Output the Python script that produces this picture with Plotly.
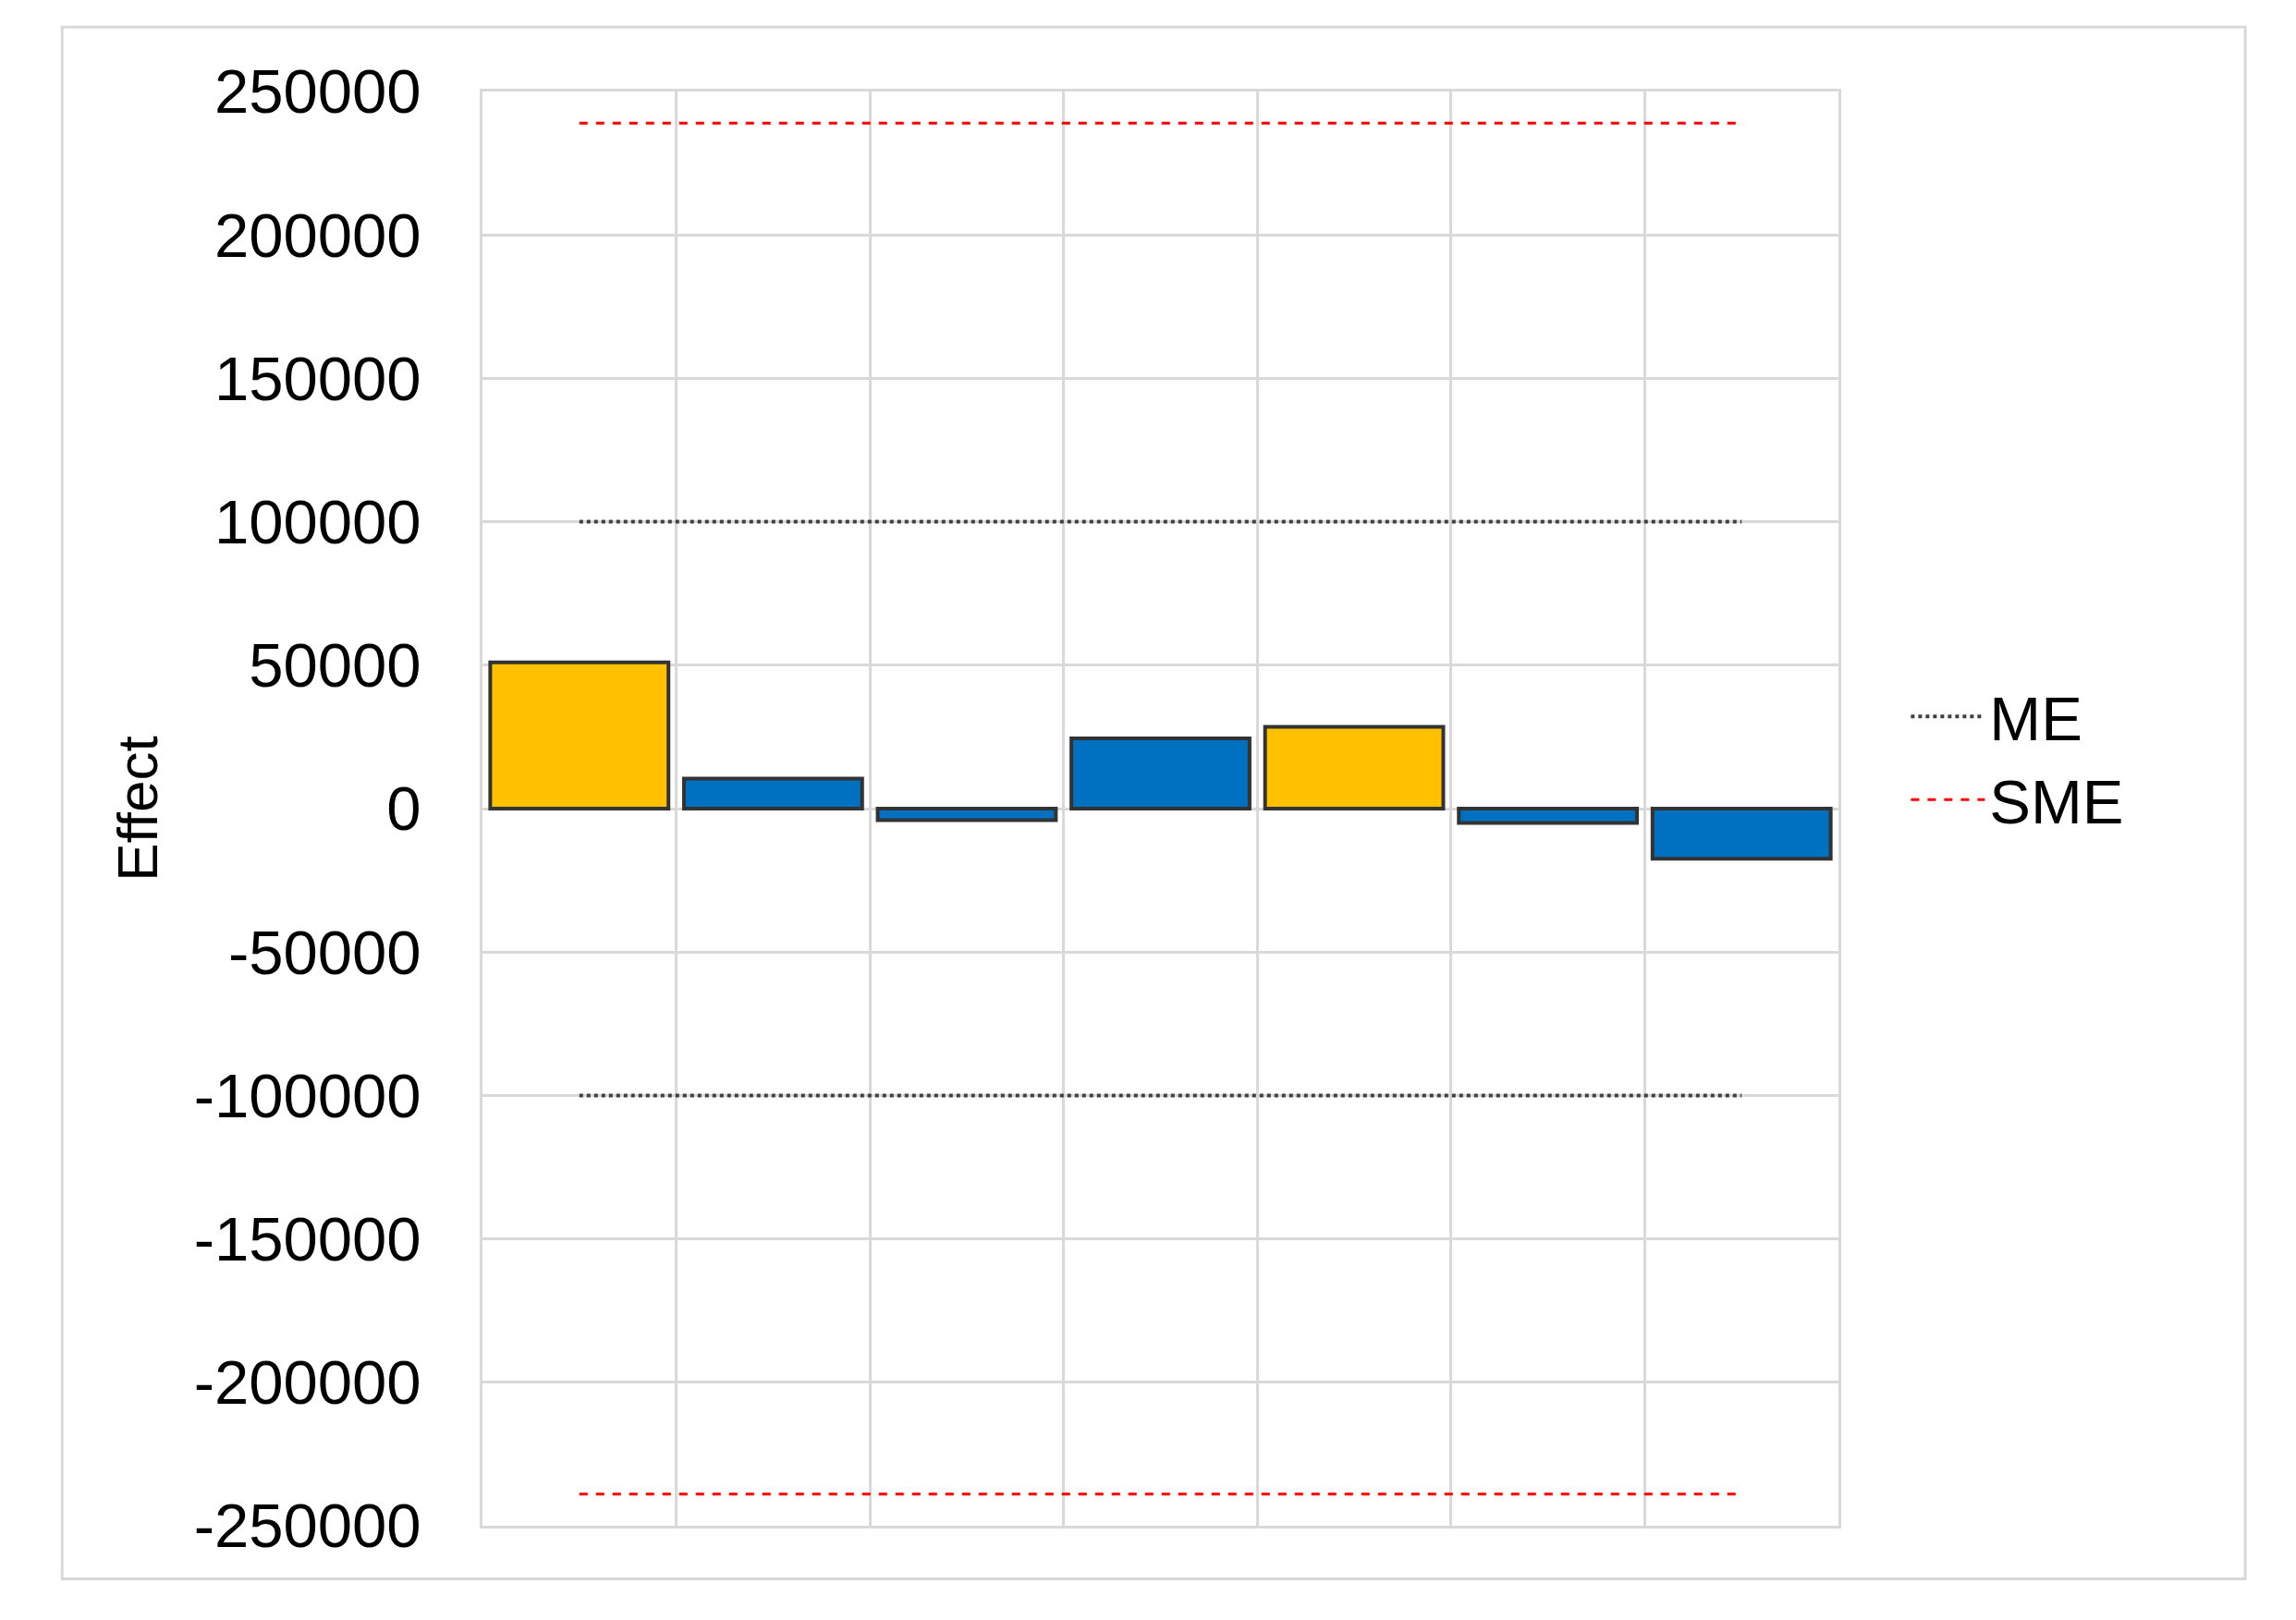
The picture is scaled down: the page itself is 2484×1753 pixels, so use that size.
import plotly.graph_objects as go

positions = [1, 2, 3, 4, 5, 6, 7]
effects = [51000, 10500, -4000, 24500, 28500, -5000, -17500]
bar_colors = ["#FFC000", "#0070C0", "#0070C0", "#0070C0", "#FFC000", "#0070C0", "#0070C0"]
me_value = 100000
sme_value = 239000
y_ticks = [250000, 200000, 150000, 100000, 50000, 0, -50000, -100000, -150000, -200000, -250000]

fig = go.Figure()
fig.add_trace(go.Bar(x=positions, y=effects, marker=dict(color=bar_colors, line=dict(color="#333333", width=4)),
                     width=0.92, showlegend=False))
x0, x1 = positions[0], positions[-1]
fig.add_trace(go.Scatter(x=[x0, x1, None, x0, x1], y=[me_value, me_value, None, -me_value, -me_value],
                         mode="lines", name="ME", line=dict(color="#404040", width=4, dash="dot")))
fig.add_trace(go.Scatter(x=[x0, x1, None, x0, x1], y=[sme_value, sme_value, None, -sme_value, -sme_value],
                         mode="lines", name="SME", line=dict(color="#FF0000", width=3, dash="dash")))

font = "Liberation Sans, Arial, sans-serif"
fig.update_layout(
    width=2484, height=1753, plot_bgcolor="white", paper_bgcolor="white",
    margin=dict(l=514, r=503, t=91, b=110),
    font=dict(family=font, size=67, color="#000000"),
    xaxis=dict(range=[0.5, 7.5], tickvals=[1.5, 2.5, 3.5, 4.5, 5.5, 6.5], showticklabels=False,
               showgrid=True, gridcolor="#D9D9D9", gridwidth=3, zeroline=False,
               showline=True, linecolor="#D9D9D9", linewidth=3, mirror=True),
    yaxis=dict(range=[-250000, 250000], tickvals=y_ticks, ticktext=[str(v) for v in y_ticks],
               showgrid=True, gridcolor="#D9D9D9", gridwidth=3, zeroline=False,
               showline=True, linecolor="#D9D9D9", linewidth=3, mirror=True,
               ticks="", ticklen=0, ticklabelstandoff=50,
               title=dict(text="Effect", font=dict(size=62), standoff=20)),
    legend=dict(x=1.05, y=0.535, xanchor="left", yanchor="middle", font=dict(size=67),
                tracegroupgap=10, itemwidth=80),
    shapes=[dict(type="rect", xref="paper", yref="paper", x0=-0.31, x1=1.30, y0=-0.037, y1=1.045,
                 line=dict(color="#D9D9D9", width=3), layer="below")],
)
fig.write_html("out.html")
